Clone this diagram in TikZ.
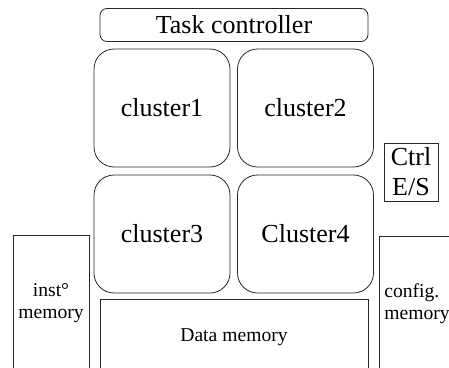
\documentclass[tikz,border=0pt]{standalone}
\usepackage{fontspec}
\setmainfont{Liberation Serif}
\begin{document}
\begin{tikzpicture}[x=1pt,y=-1pt,
  every node/.style={draw=black!85,line width=0.8pt,inner sep=0pt,outer sep=0pt},
  big/.style={font=\fontsize{26}{30}\selectfont},
  small/.style={font=\fontsize{19.6}{22}\selectfont},
  clusterbox/.style={big,rounded corners=20pt,minimum width=136pt,minimum height=118pt},
  membox/.style={small,align=center}]
\useasboundingbox (0,0) rectangle (449,367);
\clip (0,0) rectangle (449,367);
\node[big,rounded corners=7pt,minimum width=268pt,minimum height=33pt] (tc) at (234,25) {Task controller};
\node[clusterbox] (c1) at (162,108) {cluster1};
\node[clusterbox] (c2) at (305.5,108) {cluster2};
\node[clusterbox] (c3) at (162,234) {cluster3};
\node[clusterbox] (c4) at (305.5,234) {Cluster4};
\node[big,align=center,minimum width=54pt,minimum height=58pt] (ctrl) at (411,172) {Ctrl\\E/S};
\node[membox,minimum width=76pt,minimum height=136pt] (inst) at (51,303) {inst°\\memory};
\node[membox,minimum width=268pt,minimum height=76pt] (data) at (234,337) {Data memory};
\node[small,align=left,minimum width=76pt,minimum height=136pt] (cfg) at (417,304) {config.\\memory};
\end{tikzpicture}
\end{document}
